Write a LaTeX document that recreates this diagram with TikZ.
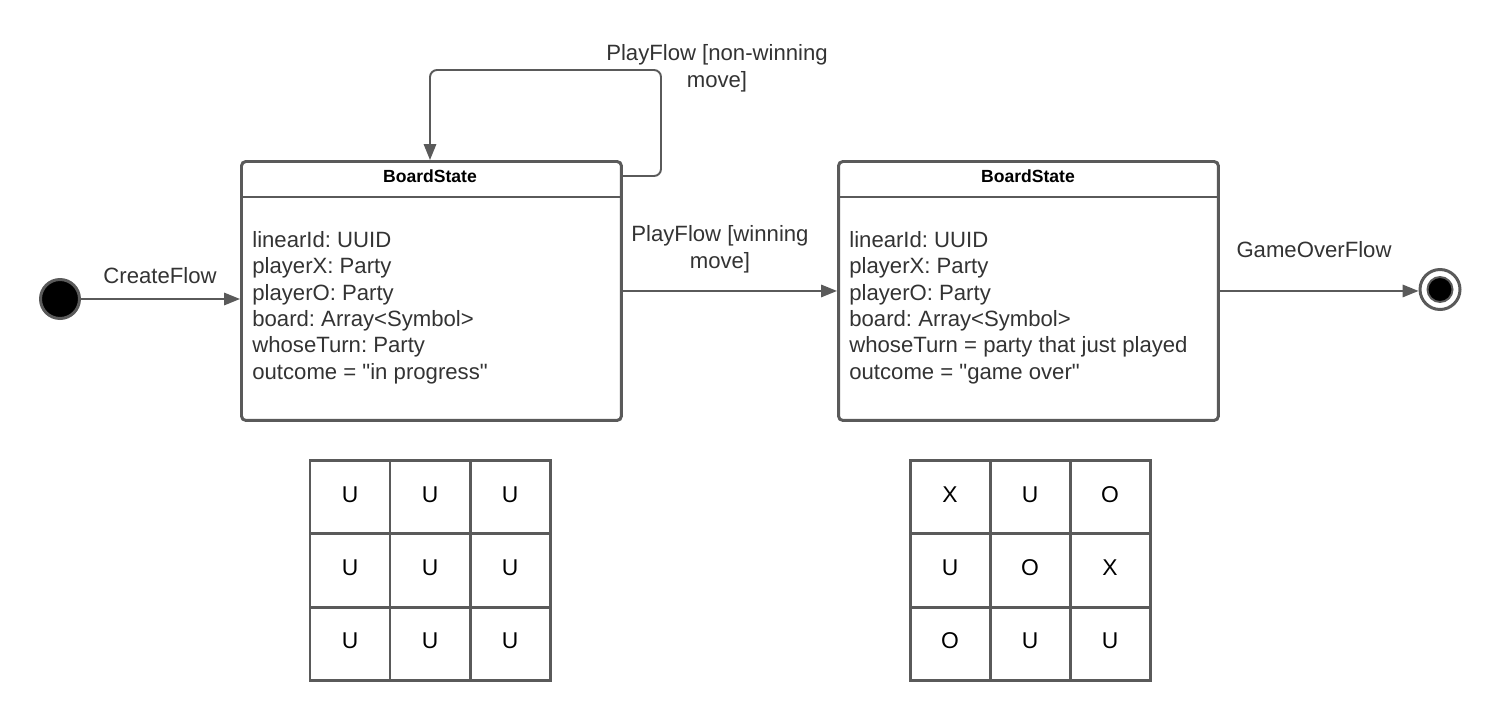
\documentclass[tikz,border=0pt]{standalone}
\usepackage{fontspec}
\setmainfont{Liberation Sans}
\usetikzlibrary{arrows.meta}
\definecolor{ln}{HTML}{5A5A5A}
\definecolor{tx}{HTML}{333333}
\frenchspacing
\begin{document}
\begin{tikzpicture}[x=0.02cm,y=-0.02cm,
  statebox/.style={draw=ln, line width=1.7pt, rounded corners=2.5pt, minimum width=7.6cm, minimum height=5.18cm, inner sep=0pt, anchor=north west},
  hdr/.style={font=\fontsize{10}{12}\selectfont\bfseries, text=black, anchor=base, inner sep=0pt},
  body/.style={font=\fontsize{12.6}{15}\selectfont, text=tx, align=left, anchor=north west, inner sep=0pt},
  lbl/.style={font=\fontsize{12.6}{15}\selectfont, text=tx, align=center, inner sep=0pt},
  conn/.style={draw=ln, line width=1.1pt, -{Triangle[length=9pt,width=7pt]}},
  sepline/.style={draw=ln, line width=1.7pt},
  gridline/.style={draw=ln, line width=1.7pt},
  cell/.style={font=\fontsize{13}{15}\selectfont, text=black, inner sep=0pt}
]
\fill[white] (0,0) rectangle (1500,720);
\useasboundingbox (0,0) rectangle (1500,720);

% state boxes
\node[statebox] (b1) at (240,160) {};
\node[statebox] (b2) at (837,160) {};
\draw[sepline] (b1.west |- 0,197) -- (b1.east |- 0,197);
\draw[sepline] (b2.west |- 0,197) -- (b2.east |- 0,197);
\node[hdr] (h1) at (430,182) {BoardState};
\node[hdr] (h2) at (1028,182) {BoardState};
\node[body] (t1) at (252,231) {linearId: UUID\\playerX: Party\\playerO: Party\\board: Array<Symbol>\\whoseTurn: Party\\outcome = \textquotedbl in progress\textquotedbl};
\node[body] (t2) at (849,231) {linearId: UUID\\playerX: Party\\playerO: Party\\board: Array<Symbol>\\whoseTurn = party that just played\\outcome = \textquotedbl game over\textquotedbl};

% initial and final states
\node[circle, fill=black, draw=ln, line width=1.7pt, minimum size=0.78cm, inner sep=0pt] (start) at (60,299) {};
\node[circle, draw=ln, line width=1.7pt, minimum size=0.8cm, inner sep=0pt] (final) at (1440,289.5) {};
\node[circle, fill=black, draw=ln, line width=1.1pt, minimum size=0.5cm, inner sep=0pt] (finalin) at (1440,289.5) {};

% connectors
\draw[conn] (start) -- (start -| b1.west);
\node[lbl, anchor=base] (l1) at (160,283) {CreateFlow};
\draw[conn] (b1.east) -- (b2.west);
\node[lbl, anchor=base] (l2) at (720,268) {PlayFlow [winning\\move]};
\draw[conn] (b2.east) -- (b2.east -| final.west);
\node[lbl, anchor=base] (l3) at (1314,257) {GameOverFlow};

\coordinate (lo) at (620,176);
\coordinate (la) at (661,70);
\coordinate (lt) at (430,70);
\draw[conn, rounded corners=4pt] (lo) -| (la) -- (lt) -- (lt |- b1.north);
\node[lbl, anchor=base] (l4) at (717,87) {PlayFlow [non-winning\\move]};

% grid 1
\draw[gridline] (310,460) rectangle (550,680);
\draw[gridline] (390,460) -- (390,680) (470,460) -- (470,680)
  (310,533) -- (550,533) (310,607) -- (550,607);
\node[cell] (a11) at (350,495) {U};
\node[cell] (a12) at (430,495) {U};
\node[cell] (a13) at (510,495) {U};
\node[cell] (a21) at (350,568) {U};
\node[cell] (a22) at (430,568) {U};
\node[cell] (a23) at (510,568) {U};
\node[cell] (a31) at (350,641) {U};
\node[cell] (a32) at (430,641) {U};
\node[cell] (a33) at (510,641) {U};

% grid 2
\draw[gridline] (910,460) rectangle (1150,680);
\draw[gridline] (990,460) -- (990,680) (1070,460) -- (1070,680)
  (910,533) -- (1150,533) (910,607) -- (1150,607);
\node[cell] (c11) at (950,495) {X};
\node[cell] (c12) at (1030,495) {U};
\node[cell] (c13) at (1110,495) {O};
\node[cell] (c21) at (950,568) {U};
\node[cell] (c22) at (1030,568) {O};
\node[cell] (c23) at (1110,568) {X};
\node[cell] (c31) at (950,641) {O};
\node[cell] (c32) at (1030,641) {U};
\node[cell] (c33) at (1110,641) {U};
\end{tikzpicture}
\end{document}
